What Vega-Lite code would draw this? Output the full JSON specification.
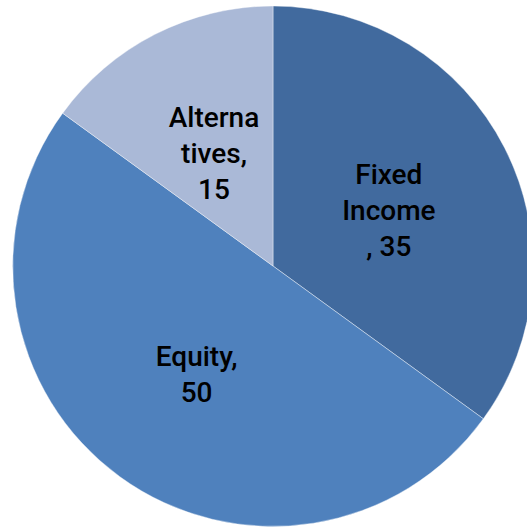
{
  "$schema": "https://vega.github.io/schema/vega-lite/v6.json",
  "width": 546,
  "height": 532,
  "autosize": {"type": "none"},
  "padding": 0,
  "background": "#ffffff",
  "view": {"stroke": null},
  "data": {
    "values": [
      {"category": "Fixed Income", "value": 35, "label": "Fixed\nIncome\n, 35", "lines": 3, "ord": 1},
      {"category": "Equity", "value": 50, "label": "Equity,\n50", "lines": 2, "ord": 2},
      {"category": "Alternatives", "value": 15, "label": "Alterna\ntives,\n15", "lines": 3, "ord": 3}
    ]
  },
  "encoding": {
    "theta": {"field": "value", "type": "quantitative", "stack": true},
    "order": {"field": "ord", "type": "quantitative"}
  },
  "layer": [
    {
      "mark": {"type": "arc", "outerRadius": 260, "stroke": "#ffffff", "strokeWidth": 0.4},
      "encoding": {
        "color": {
          "field": "category",
          "type": "nominal",
          "scale": {
            "domain": ["Fixed Income", "Equity", "Alternatives"],
            "range": ["#416a9e", "#4f81bd", "#aab9d7"]
          },
          "legend": null
        }
      }
    },
    {
      "mark": {
        "type": "text",
        "radius": 130,
        "dy": -31,
        "font": "Roboto",
        "fontSize": 28,
        "fontWeight": 500,
        "lineHeight": 36,
        "lineBreak": "\n",
        "align": "center",
        "baseline": "middle",
        "color": "#000000"
      },
      "encoding": {
        "text": {"field": "label", "type": "nominal"},
        "opacity": {"condition": {"test": "datum.lines === 3", "value": 1}, "value": 0}
      }
    },
    {
      "mark": {
        "type": "text",
        "radius": 130,
        "dy": -13,
        "font": "Roboto",
        "fontSize": 28,
        "fontWeight": 500,
        "lineHeight": 36,
        "lineBreak": "\n",
        "align": "center",
        "baseline": "middle",
        "color": "#000000"
      },
      "encoding": {
        "text": {"field": "label", "type": "nominal"},
        "opacity": {"condition": {"test": "datum.lines === 2", "value": 1}, "value": 0}
      }
    }
  ]
}
